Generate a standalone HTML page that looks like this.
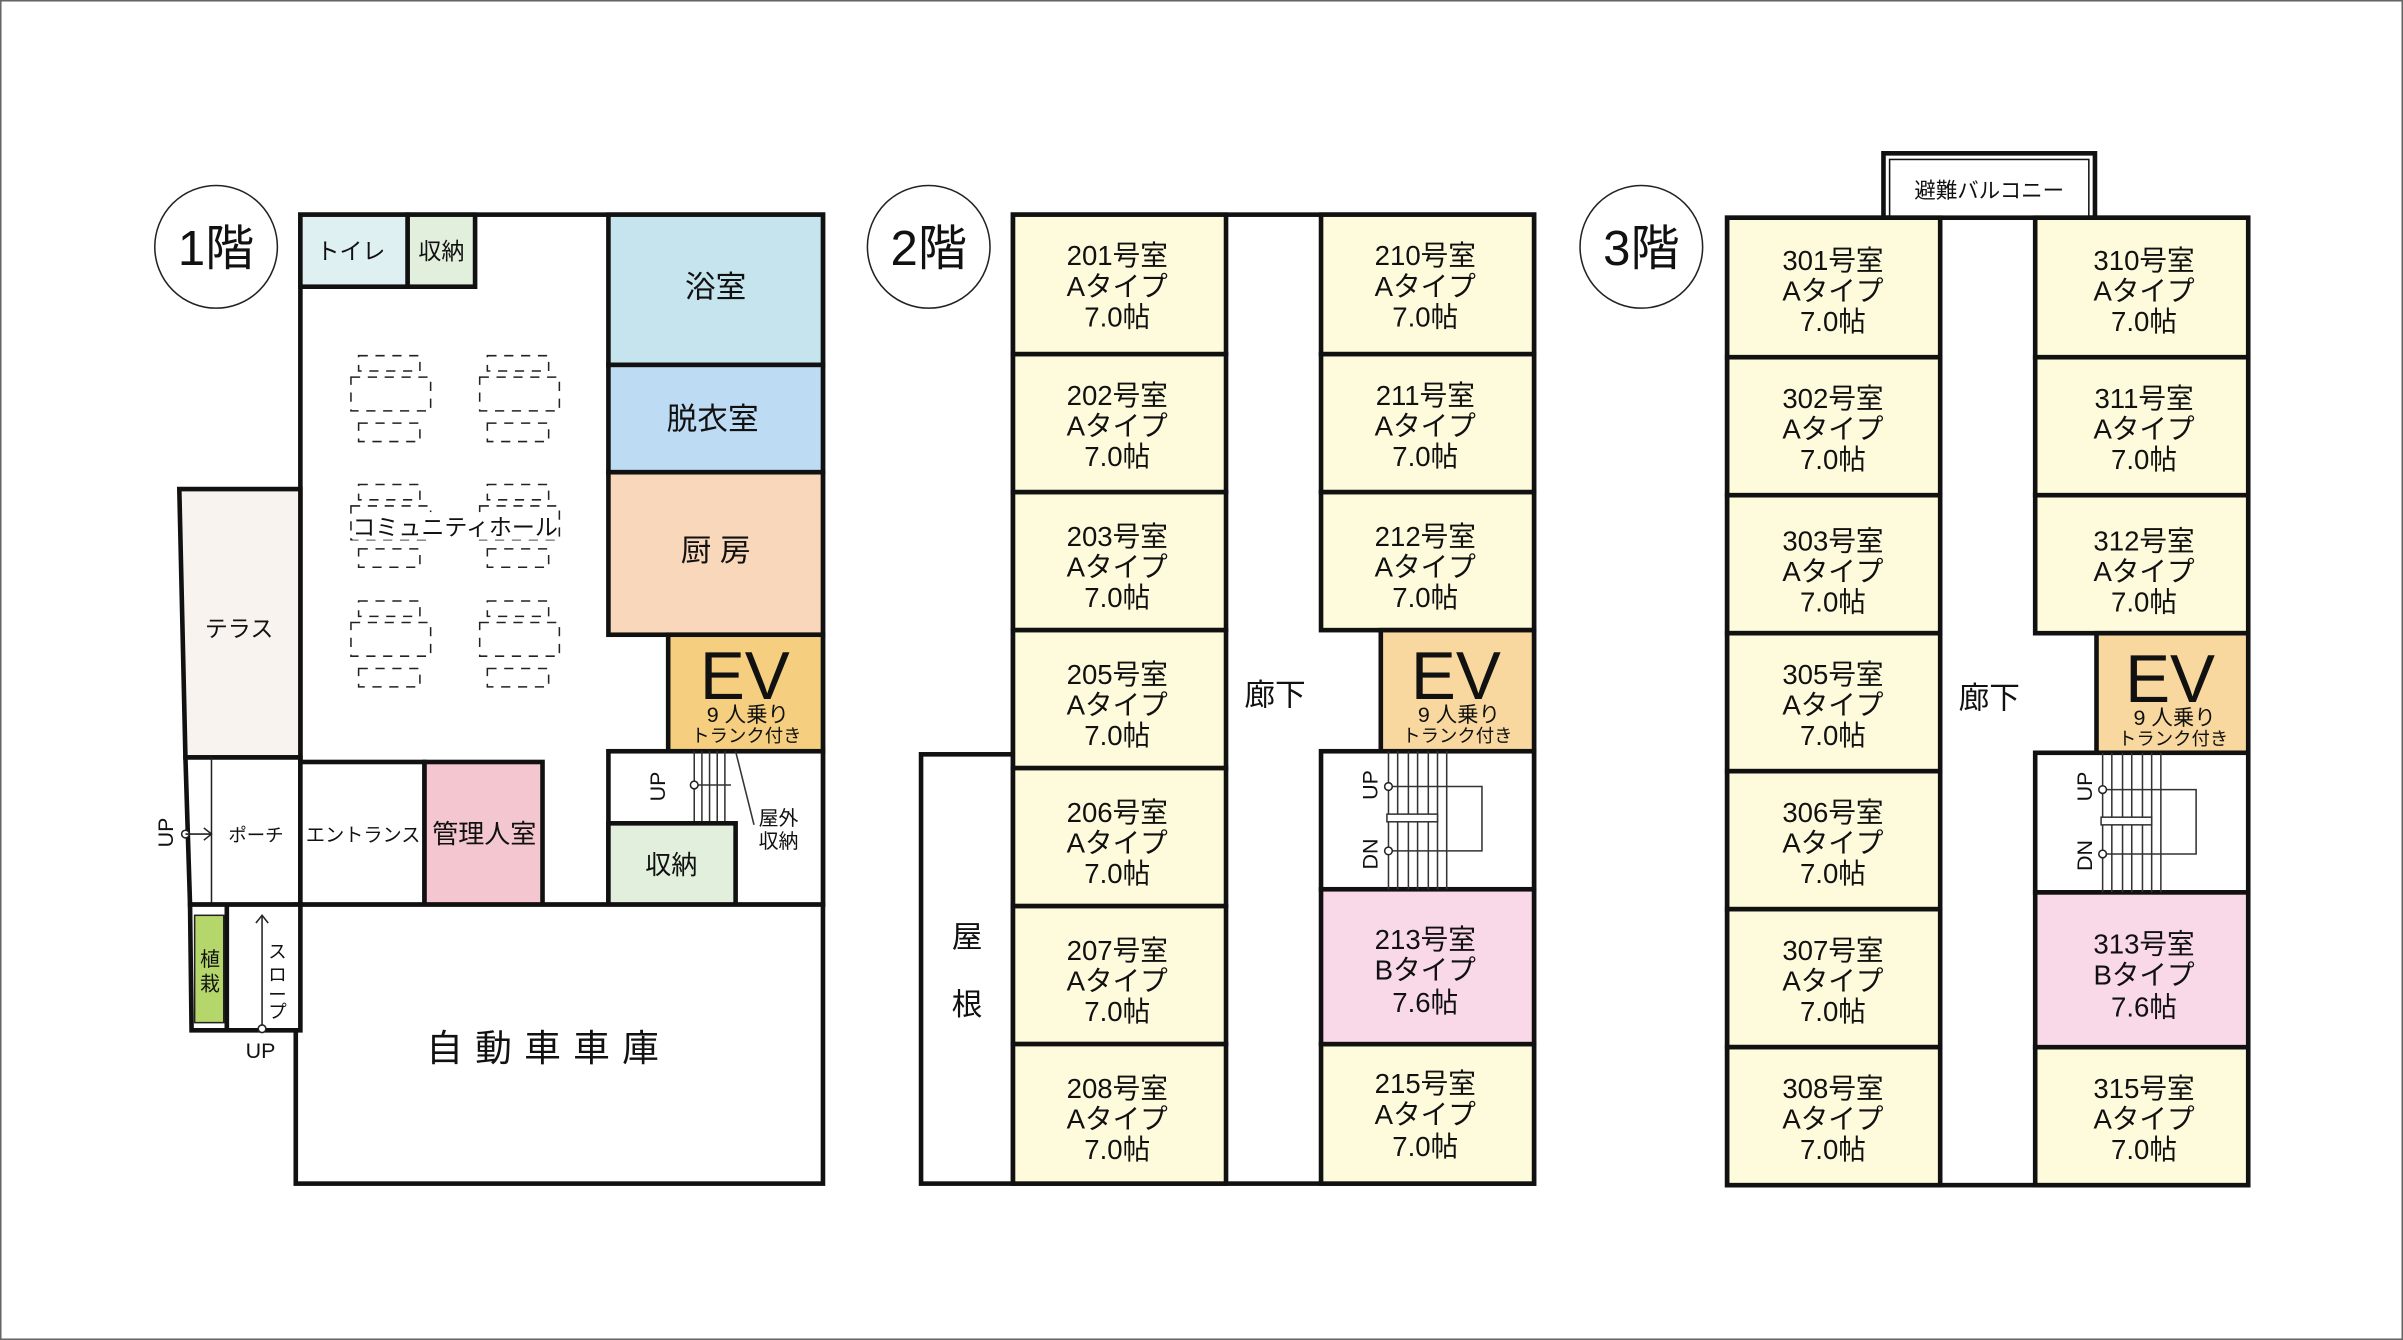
<!DOCTYPE html>
<html><head><meta charset="utf-8"><style>
html,body{margin:0;padding:0;background:#fff}
svg{display:block}
text{font-family:"Liberation Sans","Noto Sans CJK JP",sans-serif;fill:#111}
.w{stroke:#111;stroke-width:3;}
.t{font-size:18px;text-anchor:middle}
</style></head><body>
<svg width="2403" height="1340" viewBox="0 0 1568 874" preserveAspectRatio="none" xmlns="http://www.w3.org/2000/svg">
<rect x="0.5" y="0.5" width="1567" height="873" fill="#fff" stroke="#666" stroke-width="1"/>

<!-- ===== 1F ===== -->
<circle cx="141" cy="161" r="40" fill="#fff" stroke="#222" stroke-width="1"/>
<text x="141" y="173" font-size="32" text-anchor="middle">1階</text>

<rect x="196" y="140" width="341" height="450" fill="#fff" class="w"/>
<rect x="196" y="140" width="70" height="47" fill="#dff0f3" class="w"/>
<text x="229" y="169" font-size="15" text-anchor="middle">トイレ</text>
<rect x="266" y="140" width="44" height="47" fill="#e2efdc" class="w"/>
<text x="288" y="169" font-size="15" text-anchor="middle">収納</text>
<rect x="397" y="140" width="140" height="98" fill="#c5e4ee" class="w"/>
<text x="467" y="194" font-size="20" text-anchor="middle">浴室</text>
<rect x="397" y="238" width="140" height="70" fill="#bddbf2" class="w"/>
<text x="465" y="280" font-size="20" text-anchor="middle">脱衣室</text>
<rect x="397" y="308" width="140" height="106" fill="#f8d7bb" class="w"/>
<text x="467" y="366" font-size="20" text-anchor="middle">厨 房</text>
<rect x="436" y="414" width="101" height="76" fill="#f5cf7f" class="w"/>
<text x="486" y="456" font-size="44" text-anchor="middle">EV</text>
<text x="488" y="471" font-size="14" text-anchor="middle">9 人乗り</text>
<text x="487" y="484" font-size="12" text-anchor="middle">トランク付き</text>

<!-- community hall tables -->
<g fill="none" stroke="#222" stroke-width="1" stroke-dasharray="6,5">
<rect x="229" y="246" width="52" height="22"/><rect x="313" y="246" width="52" height="22"/>
<rect x="229" y="330" width="52" height="22"/><rect x="313" y="330" width="52" height="22"/>
<rect x="229" y="406" width="52" height="22"/><rect x="313" y="406" width="52" height="22"/>
<rect x="234" y="232" width="40" height="10"/><rect x="318" y="232" width="40" height="10"/>
<rect x="234" y="276" width="40" height="12"/><rect x="318" y="276" width="40" height="12"/>
<rect x="234" y="316" width="40" height="10"/><rect x="318" y="316" width="40" height="10"/>
<rect x="234" y="358" width="40" height="12"/><rect x="318" y="358" width="40" height="12"/>
<rect x="234" y="392" width="40" height="10"/><rect x="318" y="392" width="40" height="10"/>
<rect x="234" y="436" width="40" height="12"/><rect x="318" y="436" width="40" height="12"/>
</g>
<rect x="230" y="334" width="134" height="18" fill="#fff"/>
<text x="297" y="349" font-size="15" text-anchor="middle">コミュニティホール</text>

<!-- terrace -->
<polygon points="117,319 196,319 196,494 121,494" fill="#f8f3ef" class="w"/>
<text x="156" y="415" font-size="15" text-anchor="middle">テラス</text>
<!-- porch -->
<polygon points="121,494 196,494 196,590 124,590" fill="#fff" class="w"/>
<line x1="138" y1="494" x2="138" y2="590" stroke="#222" stroke-width="1"/>
<text x="167" y="549" font-size="12" text-anchor="middle">ポーチ</text>
<circle cx="121" cy="544" r="2.5" fill="#fff" stroke="#222"/>
<line x1="121" y1="544" x2="138" y2="544" stroke="#222"/><path d="M133,540 L138,544 L133,548" fill="none" stroke="#222"/>
<text x="0" y="0" font-size="14" text-anchor="middle" transform="translate(113,543) rotate(-90)">UP</text>
<rect x="196" y="497" width="81" height="93" fill="#fff" class="w"/>
<text x="237" y="549" font-size="12.5" text-anchor="middle">エントランス</text>
<rect x="277" y="497" width="77" height="93" fill="#f4c6cf" class="w"/>
<text x="316" y="550" font-size="17" text-anchor="middle">管理人室</text>
<!-- stair area -->
<rect x="397" y="490" width="140" height="100" fill="#fff" class="w"/>
<g stroke="#333" stroke-width="1">
<line x1="453" y1="490" x2="453" y2="537"/><line x1="458" y1="490" x2="458" y2="537"/><line x1="463" y1="490" x2="463" y2="537"/><line x1="468" y1="490" x2="468" y2="537"/><line x1="473" y1="490" x2="473" y2="537"/>
<line x1="480" y1="490" x2="492" y2="538"/>
<line x1="453" y1="512" x2="477" y2="512"/>
</g>
<circle cx="453" cy="512" r="2.5" fill="#fff" stroke="#222"/>
<text x="0" y="0" font-size="14" text-anchor="middle" transform="translate(434,513) rotate(-90)">UP</text>
<text x="508" y="538" font-size="13" text-anchor="middle">屋外</text>
<text x="508" y="553" font-size="13" text-anchor="middle">収納</text>
<rect x="397" y="537" width="83" height="53" fill="#e2efdc" class="w"/>
<text x="438" y="570" font-size="17" text-anchor="middle">収納</text>
<!-- garage -->
<rect x="193" y="590" width="344" height="182" fill="#fff" class="w"/>
<text x="358" y="692" font-size="24" text-anchor="middle" letter-spacing="8">自動車車庫</text>
<!-- planting + slope -->
<polygon points="124,590 196,590 196,672 125,672" fill="#fff" class="w"/>
<line x1="148" y1="590" x2="148" y2="672" class="w"/>
<rect x="127" y="597" width="19" height="70" fill="#b5d66b" stroke="#222" stroke-width="1"/>
<text x="137" y="630" font-size="13" text-anchor="middle">植</text><text x="137" y="646" font-size="13" text-anchor="middle">栽</text>
<line x1="171" y1="597" x2="171" y2="671" stroke="#222"/><path d="M167,602 L171,597 L175,602" fill="none" stroke="#222"/>
<circle cx="171" cy="671" r="2.5" fill="#fff" stroke="#222"/>
<text x="181" y="625" font-size="12" text-anchor="middle">ス</text><text x="181" y="640" font-size="12" text-anchor="middle">ロ</text><text x="181" y="653" font-size="12" text-anchor="middle">ー</text><text x="181" y="664" font-size="12" text-anchor="middle">プ</text>
<text x="170" y="690" font-size="14" text-anchor="middle">UP</text>

<!-- ===== 2F ===== -->
<circle cx="606" cy="161" r="40" fill="#fff" stroke="#222" stroke-width="1"/>
<text x="606" y="173" font-size="32" text-anchor="middle">2階</text>
<rect x="661" y="140" width="340" height="632" fill="#fff" class="w"/>
<rect x="601" y="492" width="60" height="280" fill="#fff" class="w"/>
<text x="631" y="618" font-size="20" text-anchor="middle">屋</text>
<text x="631" y="662" font-size="20" text-anchor="middle">根</text>
<text x="832" y="460" font-size="20" text-anchor="middle">廊下</text>
<g fill="#fefbdc" class="w">
<rect x="661" y="140" width="139" height="91"/><rect x="661" y="231" width="139" height="90"/><rect x="661" y="321" width="139" height="90"/><rect x="661" y="411" width="139" height="90"/><rect x="661" y="501" width="139" height="90"/><rect x="661" y="591" width="139" height="90"/><rect x="661" y="681" width="139" height="91"/>
<rect x="862" y="140" width="139" height="91"/><rect x="862" y="231" width="139" height="90"/><rect x="862" y="321" width="139" height="90"/><rect x="862" y="681" width="139" height="91"/>
</g>
<rect x="862" y="580" width="139" height="101" fill="#f9d9e8" class="w"/>
<rect x="901" y="411" width="100" height="79" fill="#f8d89e" class="w"/>
<text x="950" y="456" font-size="44" text-anchor="middle">EV</text>
<text x="952" y="471" font-size="14" text-anchor="middle">9 人乗り</text>
<text x="951" y="484" font-size="12" text-anchor="middle">トランク付き</text>
<rect x="862" y="490" width="139" height="90" fill="#fff" class="w"/>
<g stroke="#333" stroke-width="1" fill="none">
<line x1="906" y1="490" x2="906" y2="580"/><line x1="912" y1="490" x2="912" y2="580"/><line x1="919" y1="490" x2="919" y2="580"/><line x1="925" y1="490" x2="925" y2="580"/><line x1="932" y1="490" x2="932" y2="580"/><line x1="938" y1="490" x2="938" y2="580"/><line x1="944" y1="490" x2="944" y2="580"/>
<polyline points="906,513 967,513 967,555 906,555"/>
<rect x="905" y="531" width="33" height="5" fill="#fff"/>
</g>
<circle cx="906" cy="513" r="2.5" fill="#fff" stroke="#222"/><circle cx="906" cy="555" r="2.5" fill="#fff" stroke="#222"/>
<text font-size="14" text-anchor="middle" transform="translate(899,512) rotate(-90)">UP</text>
<text font-size="14" text-anchor="middle" transform="translate(899,557) rotate(-90)">DN</text>
<g class="t">
<text x="729" y="173">201号室</text><text x="729" y="193">Aタイプ</text><text x="729" y="213">7.0帖</text>
<text x="729" y="264">202号室</text><text x="729" y="284">Aタイプ</text><text x="729" y="304">7.0帖</text>
<text x="729" y="356">203号室</text><text x="729" y="376">Aタイプ</text><text x="729" y="396">7.0帖</text>
<text x="729" y="446">205号室</text><text x="729" y="466">Aタイプ</text><text x="729" y="486">7.0帖</text>
<text x="729" y="536">206号室</text><text x="729" y="556">Aタイプ</text><text x="729" y="576">7.0帖</text>
<text x="729" y="626">207号室</text><text x="729" y="646">Aタイプ</text><text x="729" y="666">7.0帖</text>
<text x="729" y="716">208号室</text><text x="729" y="736">Aタイプ</text><text x="729" y="756">7.0帖</text>
<text x="930" y="173">210号室</text><text x="930" y="193">Aタイプ</text><text x="930" y="213">7.0帖</text>
<text x="930" y="264">211号室</text><text x="930" y="284">Aタイプ</text><text x="930" y="304">7.0帖</text>
<text x="930" y="356">212号室</text><text x="930" y="376">Aタイプ</text><text x="930" y="396">7.0帖</text>
<text x="930" y="619">213号室</text><text x="930" y="639">Bタイプ</text><text x="930" y="660">7.6帖</text>
<text x="930" y="713">215号室</text><text x="930" y="733">Aタイプ</text><text x="930" y="754">7.0帖</text>
</g>

<!-- ===== 3F ===== -->
<circle cx="1071" cy="161" r="40" fill="#fff" stroke="#222" stroke-width="1"/>
<text x="1071" y="173" font-size="32" text-anchor="middle">3階</text>
<rect x="1229" y="100" width="138" height="42" fill="#fff" class="w"/>
<rect x="1233" y="104" width="130" height="38" fill="#fff" stroke="#111" stroke-width="1"/>
<text x="1298" y="129" font-size="14" text-anchor="middle">避難バルコニー</text>
<rect x="1127" y="142" width="340" height="631" fill="#fff" class="w"/>
<text x="1298" y="462" font-size="20" text-anchor="middle">廊下</text>
<g fill="#fefbdc" class="w">
<rect x="1127" y="142" width="139" height="91"/><rect x="1127" y="233" width="139" height="90"/><rect x="1127" y="323" width="139" height="90"/><rect x="1127" y="413" width="139" height="90"/><rect x="1127" y="503" width="139" height="90"/><rect x="1127" y="593" width="139" height="90"/><rect x="1127" y="683" width="139" height="90"/>
<rect x="1328" y="142" width="139" height="91"/><rect x="1328" y="233" width="139" height="90"/><rect x="1328" y="323" width="139" height="90"/><rect x="1328" y="683" width="139" height="90"/>
</g>
<rect x="1328" y="582" width="139" height="101" fill="#f9d9e8" class="w"/>
<rect x="1368" y="413" width="99" height="78" fill="#f8d89e" class="w"/>
<text x="1416" y="458" font-size="44" text-anchor="middle">EV</text>
<text x="1419" y="473" font-size="14" text-anchor="middle">9 人乗り</text>
<text x="1418" y="486" font-size="12" text-anchor="middle">トランク付き</text>
<rect x="1328" y="491" width="139" height="91" fill="#fff" class="w"/>
<g stroke="#333" stroke-width="1" fill="none">
<line x1="1372" y1="491" x2="1372" y2="582"/><line x1="1378" y1="491" x2="1378" y2="582"/><line x1="1385" y1="491" x2="1385" y2="582"/><line x1="1391" y1="491" x2="1391" y2="582"/><line x1="1398" y1="491" x2="1398" y2="582"/><line x1="1404" y1="491" x2="1404" y2="582"/><line x1="1410" y1="491" x2="1410" y2="582"/>
<polyline points="1372,515 1433,515 1433,557 1372,557"/>
<rect x="1371" y="533" width="33" height="5" fill="#fff"/>
</g>
<circle cx="1372" cy="515" r="2.5" fill="#fff" stroke="#222"/><circle cx="1372" cy="557" r="2.5" fill="#fff" stroke="#222"/>
<text font-size="14" text-anchor="middle" transform="translate(1365,513) rotate(-90)">UP</text>
<text font-size="14" text-anchor="middle" transform="translate(1365,558) rotate(-90)">DN</text>
<g class="t">
<text x="1196" y="176">301号室</text><text x="1196" y="196">Aタイプ</text><text x="1196" y="216">7.0帖</text>
<text x="1196" y="266">302号室</text><text x="1196" y="286">Aタイプ</text><text x="1196" y="306">7.0帖</text>
<text x="1196" y="359">303号室</text><text x="1196" y="379">Aタイプ</text><text x="1196" y="399">7.0帖</text>
<text x="1196" y="446">305号室</text><text x="1196" y="466">Aタイプ</text><text x="1196" y="486">7.0帖</text>
<text x="1196" y="536">306号室</text><text x="1196" y="556">Aタイプ</text><text x="1196" y="576">7.0帖</text>
<text x="1196" y="626">307号室</text><text x="1196" y="646">Aタイプ</text><text x="1196" y="666">7.0帖</text>
<text x="1196" y="716">308号室</text><text x="1196" y="736">Aタイプ</text><text x="1196" y="756">7.0帖</text>
<text x="1399" y="176">310号室</text><text x="1399" y="196">Aタイプ</text><text x="1399" y="216">7.0帖</text>
<text x="1399" y="266">311号室</text><text x="1399" y="286">Aタイプ</text><text x="1399" y="306">7.0帖</text>
<text x="1399" y="359">312号室</text><text x="1399" y="379">Aタイプ</text><text x="1399" y="399">7.0帖</text>
<text x="1399" y="622">313号室</text><text x="1399" y="642">Bタイプ</text><text x="1399" y="663">7.6帖</text>
<text x="1399" y="716">315号室</text><text x="1399" y="736">Aタイプ</text><text x="1399" y="756">7.0帖</text>
</g>
</svg>
</body></html>
